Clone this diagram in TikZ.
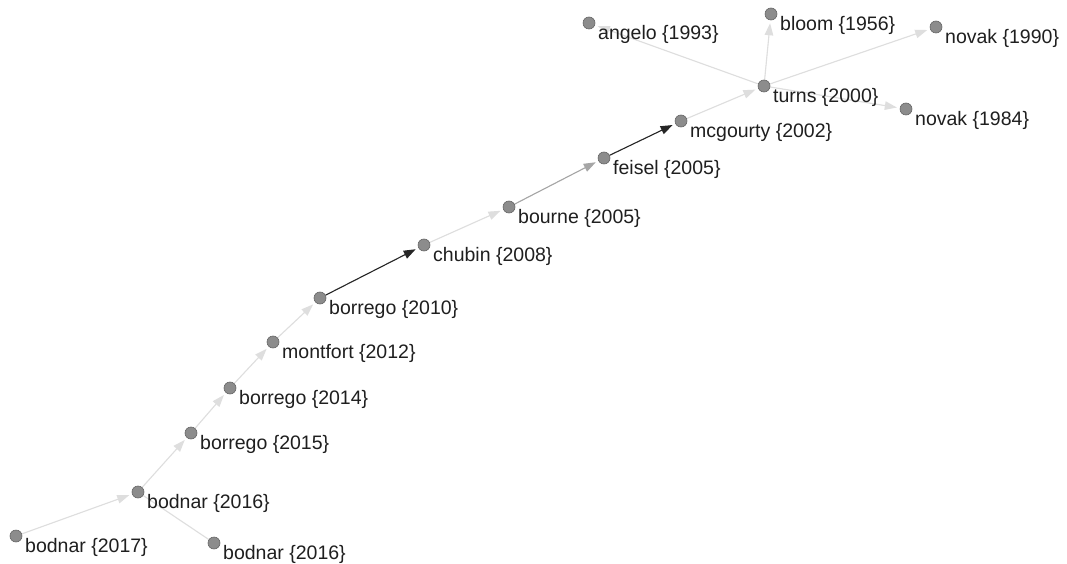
\documentclass[tikz,border=0pt]{standalone}
\usepackage{fontspec}
\setmainfont{Liberation Sans}
\usetikzlibrary{arrows.meta}
\pgfdeclarelayer{bg}
\pgfsetlayers{bg,main}
\begin{document}
\begin{tikzpicture}[x=1pt,y=-1pt,
  dot/.style={circle,fill=black!45,draw=black!60,line width=0.6pt,minimum size=12pt,inner sep=0pt},
  lbl/.style={anchor=west,inner sep=0pt,font=\fontsize{19.5}{21}\selectfont,text=black!88},
  edge/.style={line width=1.1pt,-{Triangle[length=12pt,width=8.5pt]},shorten >=3pt,shorten <=0pt},
  light/.style={edge,draw=black!13,fill=black!13},
  mid/.style={edge,draw=black!35,fill=black!35},
  dark/.style={edge,draw=black!85,fill=black!85},
  plain/.style={line width=1.1pt,draw=black!13}]
\useasboundingbox (0,0) rectangle (1067,564);
% dots
\node[dot] (angelo) at (589,23) {};
\node[dot] (bloom) at (771,14) {};
\node[dot] (novakA) at (936,27) {};
\node[dot] (turns) at (764,86) {};
\node[dot] (novakB) at (906,109) {};
\node[dot] (mcg) at (681,121) {};
\node[dot] (feisel) at (604,158) {};
\node[dot] (bourne) at (509,207) {};
\node[dot] (chubin) at (424,245) {};
\node[dot] (bor10) at (320,298) {};
\node[dot] (mont) at (273,342) {};
\node[dot] (bor14) at (230,388) {};
\node[dot] (bor15) at (191,433) {};
\node[dot] (bod16) at (138,492) {};
\node[dot] (bod17) at (16,536) {};
\node[dot] (bod16b) at (214,543) {};
% edges
\begin{pgfonlayer}{bg}
\fill[white] (0,0) rectangle (1067,564);
\draw[plain] (bod16b) -- (bod16);
\draw[light] (bod17) -- (bod16);
\draw[light] (bod16) -- (bor15);
\draw[light] (bor15) -- (bor14);
\draw[light] (bor14) -- (mont);
\draw[light] (mont) -- (bor10);
\draw[dark] (bor10) -- (chubin);
\draw[light] (chubin) -- (bourne);
\draw[mid] (bourne) -- (feisel);
\draw[dark] (feisel) -- (mcg);
\draw[light] (mcg) -- (turns);
\draw[light] (turns) -- (angelo);
\draw[light] (turns) -- (bloom);
\draw[light] (turns) -- (novakA);
\draw[light] (turns) -- (novakB);
\end{pgfonlayer}
% labels
\node[lbl] (langelo) at ([xshift=9pt,yshift=-11pt]angelo.center) {angelo \{1993\}};
\node[lbl] (lbloom) at ([xshift=9pt,yshift=-11pt]bloom.center) {bloom \{1956\}};
\node[lbl] (lnovakA) at ([xshift=9pt,yshift=-11pt]novakA.center) {novak \{1990\}};
\node[lbl] (lturns) at ([xshift=9pt,yshift=-11pt]turns.center) {turns \{2000\}};
\node[lbl] (lnovakB) at ([xshift=9pt,yshift=-11pt]novakB.center) {novak \{1984\}};
\node[lbl] (lmcg) at ([xshift=9pt,yshift=-11pt]mcg.center) {mcgourty \{2002\}};
\node[lbl] (lfeisel) at ([xshift=9pt,yshift=-11pt]feisel.center) {feisel \{2005\}};
\node[lbl] (lbourne) at ([xshift=9pt,yshift=-11pt]bourne.center) {bourne \{2005\}};
\node[lbl] (lchubin) at ([xshift=9pt,yshift=-11pt]chubin.center) {chubin \{2008\}};
\node[lbl] (lbor10) at ([xshift=9pt,yshift=-11pt]bor10.center) {borrego \{2010\}};
\node[lbl] (lmont) at ([xshift=9pt,yshift=-11pt]mont.center) {montfort \{2012\}};
\node[lbl] (lbor14) at ([xshift=9pt,yshift=-11pt]bor14.center) {borrego \{2014\}};
\node[lbl] (lbor15) at ([xshift=9pt,yshift=-11pt]bor15.center) {borrego \{2015\}};
\node[lbl] (lbod16) at ([xshift=9pt,yshift=-11pt]bod16.center) {bodnar \{2016\}};
\node[lbl] (lbod17) at ([xshift=9pt,yshift=-11pt]bod17.center) {bodnar \{2017\}};
\node[lbl] (lbod16b) at ([xshift=9pt,yshift=-11pt]bod16b.center) {bodnar \{2016\}};
\end{tikzpicture}
\end{document}
